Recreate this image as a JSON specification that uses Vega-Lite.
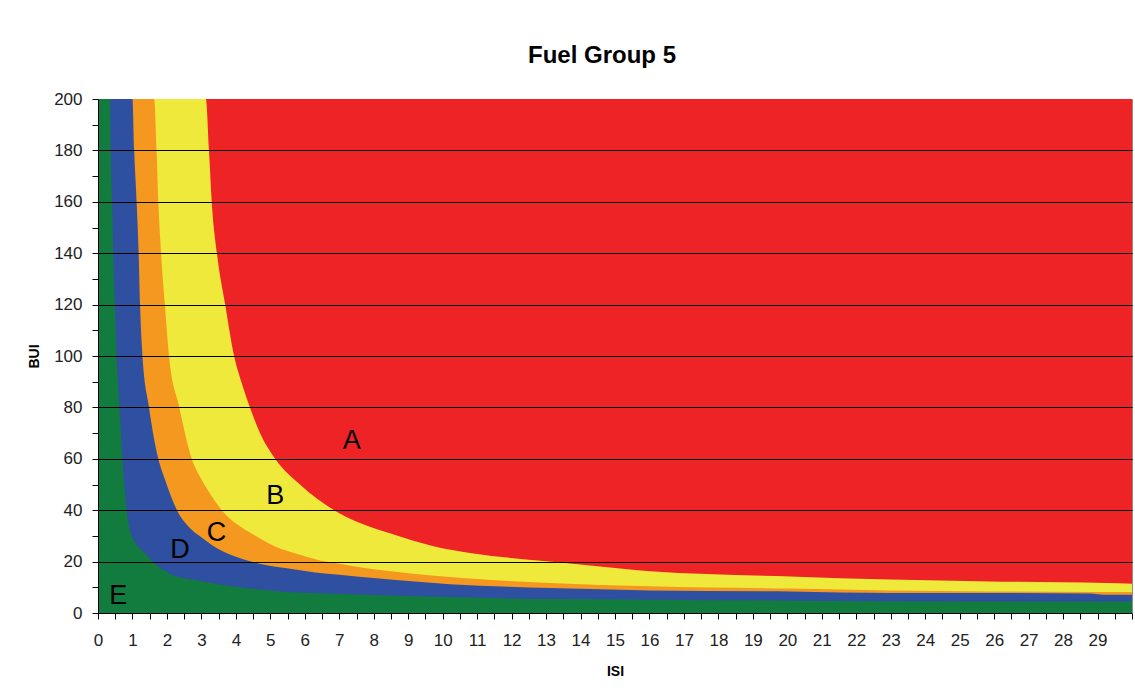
{
  "$schema": "https://vega.github.io/schema/vega-lite/v6.json",
  "width": 1034,
  "height": 514,
  "autosize": "none",
  "padding": {"left": 98, "top": 99, "right": 3, "bottom": 81},
  "background": "white",
  "config": {"view": {"stroke": "#8c8c8c", "strokeWidth": 1}, "font": "Liberation Sans"},
  "title": {"text": "Fuel Group 5", "fontSize": 24, "fontWeight": "bold", "font": "Liberation Sans", "color": "black", "anchor": "middle", "dx": -13, "dy": 34, "baseline": "alphabetic", "offset": 37},
  "datasets": {
    "zones": [
      {"zone": "A", "ISI": 0, "BUI": 200}, {"zone": "A", "ISI": 30, "BUI": 200},
      {"zone": "B", "ISI": 0, "BUI": 200}, {"zone": "B", "ISI": 3.13, "BUI": 200}, {"zone": "B", "ISI": 3.22, "BUI": 180}, {"zone": "B", "ISI": 3.30, "BUI": 160}, {"zone": "B", "ISI": 3.45, "BUI": 140}, {"zone": "B", "ISI": 3.69, "BUI": 120}, {"zone": "B", "ISI": 3.95, "BUI": 100}, {"zone": "B", "ISI": 4.17, "BUI": 89.5}, {"zone": "B", "ISI": 4.41, "BUI": 80}, {"zone": "B", "ISI": 4.70, "BUI": 70}, {"zone": "B", "ISI": 5.14, "BUI": 60}, {"zone": "B", "ISI": 5.86, "BUI": 50}, {"zone": "B", "ISI": 6.85, "BUI": 40}, {"zone": "B", "ISI": 7.51, "BUI": 35.5}, {"zone": "B", "ISI": 8.47, "BUI": 31}, {"zone": "B", "ISI": 9.73, "BUI": 26}, {"zone": "B", "ISI": 10.9, "BUI": 23.2}, {"zone": "B", "ISI": 13.1, "BUI": 20}, {"zone": "B", "ISI": 14.57, "BUI": 18.1}, {"zone": "B", "ISI": 16.02, "BUI": 16.2}, {"zone": "B", "ISI": 20.08, "BUI": 14.2}, {"zone": "B", "ISI": 22.98, "BUI": 13.0}, {"zone": "B", "ISI": 25.88, "BUI": 12.3}, {"zone": "B", "ISI": 26.66, "BUI": 12.2}, {"zone": "B", "ISI": 29.27, "BUI": 11.7}, {"zone": "B", "ISI": 30, "BUI": 11.4},
      {"zone": "C", "ISI": 0, "BUI": 200}, {"zone": "C", "ISI": 1.63, "BUI": 200}, {"zone": "C", "ISI": 1.70, "BUI": 180}, {"zone": "C", "ISI": 1.75, "BUI": 160}, {"zone": "C", "ISI": 1.83, "BUI": 140}, {"zone": "C", "ISI": 1.94, "BUI": 120}, {"zone": "C", "ISI": 2.06, "BUI": 100}, {"zone": "C", "ISI": 2.36, "BUI": 80}, {"zone": "C", "ISI": 2.72, "BUI": 60}, {"zone": "C", "ISI": 3.0, "BUI": 52}, {"zone": "C", "ISI": 3.3, "BUI": 45.4}, {"zone": "C", "ISI": 3.59, "BUI": 40}, {"zone": "C", "ISI": 4.27, "BUI": 32.4}, {"zone": "C", "ISI": 4.6, "BUI": 29.8}, {"zone": "C", "ISI": 5.14, "BUI": 25.9}, {"zone": "C", "ISI": 5.86, "BUI": 22.7}, {"zone": "C", "ISI": 6.6, "BUI": 20}, {"zone": "C", "ISI": 7, "BUI": 19.2}, {"zone": "C", "ISI": 8, "BUI": 17}, {"zone": "C", "ISI": 9, "BUI": 15.5}, {"zone": "C", "ISI": 10.21, "BUI": 14.0}, {"zone": "C", "ISI": 10.9, "BUI": 13.3}, {"zone": "C", "ISI": 13.12, "BUI": 11.7}, {"zone": "C", "ISI": 16.02, "BUI": 10.4}, {"zone": "C", "ISI": 20.08, "BUI": 9.5}, {"zone": "C", "ISI": 22.98, "BUI": 8.8}, {"zone": "C", "ISI": 25.88, "BUI": 8.4}, {"zone": "C", "ISI": 28.8, "BUI": 8.2}, {"zone": "C", "ISI": 30, "BUI": 8.2},
      {"zone": "D", "ISI": 0, "BUI": 200}, {"zone": "D", "ISI": 1.0, "BUI": 200}, {"zone": "D", "ISI": 1.05, "BUI": 180}, {"zone": "D", "ISI": 1.12, "BUI": 160}, {"zone": "D", "ISI": 1.18, "BUI": 140}, {"zone": "D", "ISI": 1.22, "BUI": 120}, {"zone": "D", "ISI": 1.29, "BUI": 100}, {"zone": "D", "ISI": 1.48, "BUI": 80}, {"zone": "D", "ISI": 1.75, "BUI": 60}, {"zone": "D", "ISI": 1.94, "BUI": 52}, {"zone": "D", "ISI": 2.29, "BUI": 40}, {"zone": "D", "ISI": 2.72, "BUI": 32.4}, {"zone": "D", "ISI": 3.03, "BUI": 29.2}, {"zone": "D", "ISI": 3.44, "BUI": 25.3}, {"zone": "D", "ISI": 3.98, "BUI": 22}, {"zone": "D", "ISI": 4.44, "BUI": 20}, {"zone": "D", "ISI": 5.43, "BUI": 17.5}, {"zone": "D", "ISI": 6.3, "BUI": 15.8}, {"zone": "D", "ISI": 7, "BUI": 14.9}, {"zone": "D", "ISI": 8, "BUI": 13.6}, {"zone": "D", "ISI": 10.21, "BUI": 11.2}, {"zone": "D", "ISI": 13.12, "BUI": 9.7}, {"zone": "D", "ISI": 16.02, "BUI": 8.8}, {"zone": "D", "ISI": 20.08, "BUI": 8.4}, {"zone": "D", "ISI": 22.98, "BUI": 7.8}, {"zone": "D", "ISI": 25.88, "BUI": 7.8}, {"zone": "D", "ISI": 28.8, "BUI": 7.6}, {"zone": "D", "ISI": 29.2, "BUI": 7.1}, {"zone": "D", "ISI": 30, "BUI": 7.1},
      {"zone": "E", "ISI": 0, "BUI": 200}, {"zone": "E", "ISI": 0.35, "BUI": 200}, {"zone": "E", "ISI": 0.37, "BUI": 180}, {"zone": "E", "ISI": 0.41, "BUI": 160}, {"zone": "E", "ISI": 0.44, "BUI": 140}, {"zone": "E", "ISI": 0.49, "BUI": 120}, {"zone": "E", "ISI": 0.54, "BUI": 100}, {"zone": "E", "ISI": 0.62, "BUI": 80}, {"zone": "E", "ISI": 0.71, "BUI": 60}, {"zone": "E", "ISI": 0.75, "BUI": 52}, {"zone": "E", "ISI": 0.83, "BUI": 40}, {"zone": "E", "ISI": 0.98, "BUI": 30}, {"zone": "E", "ISI": 1.36, "BUI": 23.3}, {"zone": "E", "ISI": 1.58, "BUI": 20}, {"zone": "E", "ISI": 2.1, "BUI": 15.2}, {"zone": "E", "ISI": 3.05, "BUI": 12.3}, {"zone": "E", "ISI": 4.1, "BUI": 10.0}, {"zone": "E", "ISI": 5.3, "BUI": 8.4}, {"zone": "E", "ISI": 7, "BUI": 7.4}, {"zone": "E", "ISI": 8.4, "BUI": 6.8}, {"zone": "E", "ISI": 10.21, "BUI": 6.2}, {"zone": "E", "ISI": 13.12, "BUI": 5.4}, {"zone": "E", "ISI": 16.02, "BUI": 5.2}, {"zone": "E", "ISI": 20.08, "BUI": 4.8}, {"zone": "E", "ISI": 25, "BUI": 4.5}, {"zone": "E", "ISI": 30, "BUI": 4.5}
    ],
    "labels": [
      {"label": "A", "ISI": 7.36, "BUI": 66.8},
      {"label": "B", "ISI": 5.14, "BUI": 45.6},
      {"label": "C", "ISI": 3.44, "BUI": 31.1},
      {"label": "D", "ISI": 2.38, "BUI": 24.6},
      {"label": "E", "ISI": 0.59, "BUI": 6.7}
    ]
  },
  "encoding": {
    "x": {
      "field": "ISI", "type": "quantitative",
      "scale": {"domain": [0, 30], "nice": false, "zero": false},
      "axis": {
        "title": "ISI", "titleFontSize": 14, "titleFontWeight": "bold", "titleColor": "black", "titlePadding": 16,
        "values": [0,0.5,1,1.5,2,2.5,3,3.5,4,4.5,5,5.5,6,6.5,7,7.5,8,8.5,9,9.5,10,10.5,11,11.5,12,12.5,13,13.5,14,14.5,15,15.5,16,16.5,17,17.5,18,18.5,19,19.5,20,20.5,21,21.5,22,22.5,23,23.5,24,24.5,25,25.5,26,26.5,27,27.5,28,28.5,29,29.5,30],
        "labelExpr": "(datum.value % 1 === 0 && datum.value < 30) ? format(datum.value, 'd') : ''",
        "labelOverlap": false, "labelFlush": false, "labelFontSize": 17, "labelColor": "#222", "labelPadding": 13,
        "tickSize": 6, "tickColor": "black", "domainColor": "black", "grid": false
      }
    },
    "y": {
      "field": "BUI", "type": "quantitative",
      "scale": {"domain": [0, 200], "nice": false},
      "axis": {
        "title": "BUI", "titleFontSize": 14, "titleFontWeight": "bold", "titleColor": "black", "titlePadding": 12,
        "values": [0,10,20,30,40,50,60,70,80,90,100,110,120,130,140,150,160,170,180,190,200],
        "labelExpr": "datum.value % 20 === 0 ? format(datum.value, 'd') : ''",
        "labelOverlap": false, "labelFlush": false, "labelFontSize": 17, "labelColor": "#222", "labelPadding": 10,
        "tickSize": 6, "tickColor": "black", "domainColor": "black",
        "grid": true, "gridColor": "black", "gridWidth": 1,
        "gridOpacity": {"condition": {"test": "datum.value % 20 === 0 && datum.value > 0 && datum.value < 200", "value": 1}, "value": 0},
        "zindex": 1
      }
    }
  },
  "layer": [
    {"data": {"name": "zones"}, "transform": [{"filter": "datum.zone === 'A'"}], "mark": {"type": "area", "color": "#EE2326", "interpolate": "monotone", "clip": true}},
    {"data": {"name": "zones"}, "transform": [{"filter": "datum.zone === 'B'"}], "mark": {"type": "area", "color": "#EFE93C", "interpolate": "monotone", "clip": true}},
    {"data": {"name": "zones"}, "transform": [{"filter": "datum.zone === 'C'"}], "mark": {"type": "area", "color": "#F4981F", "interpolate": "monotone", "clip": true}},
    {"data": {"name": "zones"}, "transform": [{"filter": "datum.zone === 'D'"}], "mark": {"type": "area", "color": "#2F50A0", "interpolate": "monotone", "clip": true}},
    {"data": {"name": "zones"}, "transform": [{"filter": "datum.zone === 'E'"}], "mark": {"type": "area", "color": "#127C3E", "interpolate": "monotone", "clip": true}},
    {"data": {"name": "labels"}, "mark": {"type": "text", "fontSize": 27, "font": "Liberation Sans", "color": "black", "align": "center", "baseline": "middle"}, "encoding": {"text": {"field": "label", "type": "nominal"}}}
  ]
}
